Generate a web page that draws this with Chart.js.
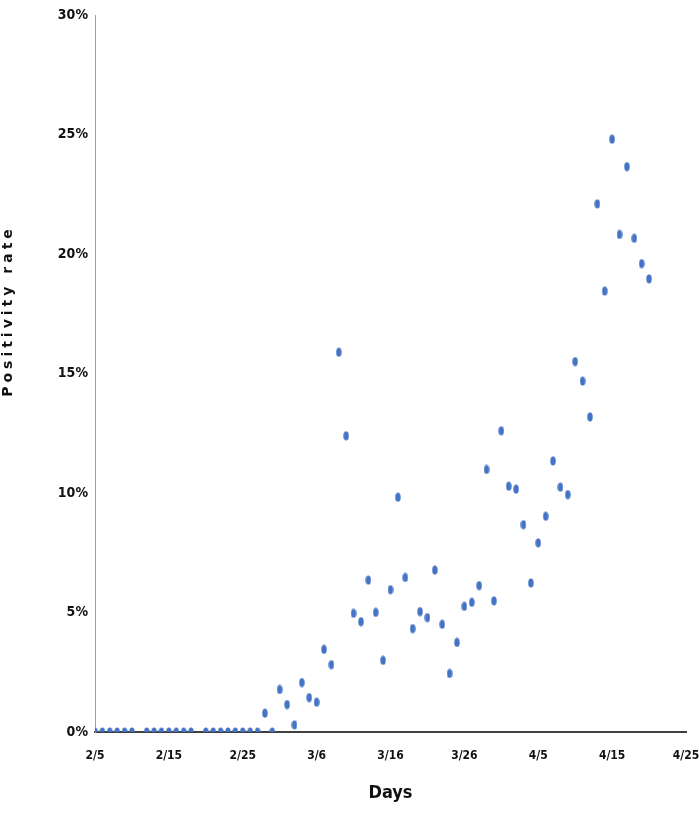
<!DOCTYPE html>
<html>
<head>
<meta charset="utf-8">
<script src="https://cdn.jsdelivr.net/npm/chart.js@4/dist/chart.umd.min.js"></script>
<style>
    html, body { margin: 0; padding: 0; background: #fff; }
    #wrap { position: relative; width: 699px; height: 813px; }
</style>
</head>
<body>
<div id="wrap"><canvas id="rateChart" width="699" height="813"></canvas></div>
<script>
// Positivity rate (%) per day, index = days since 2/5 (null = no data)
const rates = [
    0, 0, 0, 0, 0, 0, null, 0, 0, 0,
    0, 0, 0, 0, null, 0, 0, 0, 0, 0,
    0, 0, 0, 0.79, 0, 1.78, 1.15, 0.30, 2.07, 1.44,
    1.25, 3.46, 2.82, 15.9, 12.4, 4.97, 4.62, 6.36, 5.01, 3.0,
    5.96, 9.83, 6.47, 4.33, 5.04, 4.79, 6.78, 4.51, 2.45, 3.75,
    5.26, 5.43, 6.13, 10.99, 5.49, 12.61, 10.29, 10.17, 8.68, 6.24,
    7.92, 9.03, 11.35, 10.25, 9.94, 15.51, 14.69, 13.19, 22.11, 18.46,
    24.82, 20.83, 23.67, 20.67, 19.61, 18.97
];

// x tick labels, one every 10 days starting at 2/5
const tickLabels = ['2/5', '2/15', '2/25', '3/6', '3/16', '3/26', '4/5', '4/15', '4/25'];

const pointColor = '#4472C4';
const labelFont = '"DejaVu Sans Condensed", "Liberation Sans", sans-serif';

// small vertical ellipse used as the marker
function makeMarker() {
    const c = document.createElement('canvas');
    c.width = 6;
    c.height = 10;
    const g = c.getContext('2d');
    g.fillStyle = pointColor;
    g.beginPath();
    g.ellipse(3, 5, 2.7, 4.6, 0, 0, Math.PI * 2);
    g.fill();
    return c;
}

// rotated y title, drawn by hand so it can be letter-spaced
const yTitlePlugin = {
    id: 'yTitle',
    afterDraw(chart) {
        const ctx = chart.ctx;
        ctx.save();
        ctx.translate(8, 311);
        ctx.rotate(-Math.PI / 2);
        ctx.font = 'bold 14px "DejaVu Sans"';
        ctx.letterSpacing = '4px';
        ctx.fillStyle = '#111';
        ctx.textAlign = 'center';
        ctx.textBaseline = 'middle';
        ctx.fillText('Positivity rate', 0, 0);
        ctx.restore();
    }
};

const points = rates
    .map((r, i) => ({ x: i, y: r }))
    .filter(p => p.y !== null);

const ctx = document.getElementById('rateChart').getContext('2d');

new Chart(ctx, {
    type: 'scatter',
    data: {
        datasets: [{
            data: points,
            pointStyle: makeMarker(),
            pointRadius: 5,
            backgroundColor: pointColor,
            borderColor: pointColor
        }]
    },
    options: {
        responsive: false,
        animation: false,
        layout: { padding: { left: 0, right: 0, top: 12, bottom: 0 } },
        plugins: {
            legend: { display: false },
            tooltip: { enabled: false }
        },
        scales: {
            x: {
                type: 'linear',
                min: 0,
                max: 80,
                afterFit: scale => {
                    scale.height = 81;
                    scale.paddingLeft = 0;
                    scale.paddingRight = 13;
                },
                grid: { display: false, drawTicks: false },
                border: { color: '#404040', width: 2 },
                ticks: {
                    stepSize: 10,
                    padding: 17,
                    maxRotation: 0,
                    color: '#111',
                    font: { family: labelFont, size: 12, weight: 'bold' },
                    callback: v => tickLabels[v / 10]
                },
                title: {
                    display: true,
                    text: 'Days',
                    color: '#111',
                    padding: { top: 0, bottom: 9 },
                    font: { family: labelFont, size: 18, weight: 'bold' }
                }
            },
            y: {
                min: 0,
                max: 30,
                afterFit: scale => { scale.width = 95; },
                grid: { display: false, drawTicks: false },
                border: { color: '#a0a0a0', width: 1 },
                ticks: {
                    stepSize: 5,
                    padding: 7,
                    color: '#111',
                    font: { family: labelFont, size: 14, weight: 'bold' },
                    callback: v => v + '%'
                }
            }
        }
    },
    plugins: [yTitlePlugin]
});
</script>
</body>
</html>
